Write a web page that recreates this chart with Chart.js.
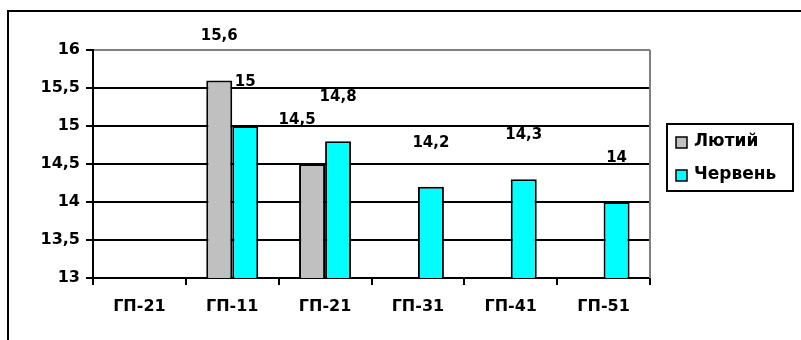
<!DOCTYPE html>
<html>
<head>
<meta charset="utf-8">
<script src="https://cdn.jsdelivr.net/npm/chart.js@4.4.0/dist/chart.umd.min.js"></script>
<style>
  html, body { margin: 0; padding: 0; background: #fff; }
</style>
</head>
<body>
<canvas id="grafico" width="801" height="340"></canvas>
<script>
// Дані діаграми
const categories = ['ГП-21', 'ГП-11', 'ГП-21', 'ГП-31', 'ГП-41', 'ГП-51'];
const lutyi = [null, 15.6, 14.5, null, null, null];
const cherven = [null, 15, 14.8, 14.2, 14.3, 14];
const seriesNames = ['Лютий', 'Червень'];
const yTicks = [13, 13.5, 14, 14.5, 15, 15.5, 16];

const FONT = 'DejaVu Sans';
const comma = v => String(v).replace('.', ',');

// рамка навколо всієї діаграми
const frame = {
  id: 'frame',
  beforeDraw(chart) {
    const c = chart.ctx;
    c.save();
    c.fillStyle = '#fff';
    c.fillRect(0, 0, chart.width, chart.height);
    c.strokeStyle = '#000';
    c.lineWidth = 2;
    c.strokeRect(8, 11, chart.width + 20, chart.height + 20);
    c.restore();
  },
  afterDatasetsDraw(chart) {
    // права межа області побудови (сіра)
    const a = chart.chartArea, c = chart.ctx;
    c.save();
    c.strokeStyle = '#808080';
    c.lineWidth = 2;
    c.beginPath();
    c.moveTo(a.right, a.top);
    c.lineTo(a.right, a.bottom);
    c.stroke();
    c.restore();
  }
};

// підписи значень над стовпчиками
const valueLabels = {
  id: 'valueLabels',
  afterDatasetsDraw(chart) {
    const c = chart.ctx;
    c.save();
    c.font = 'bold 15px "' + FONT + '"';
    c.fillStyle = '#000';
    c.textAlign = 'center';
    c.textBaseline = 'middle';
    chart.data.datasets.forEach((ds, i) => {
      chart.getDatasetMeta(i).data.forEach((bar, j) => {
        const v = ds.data[j];
        if (v == null) return;
        const dx = (i === 0 && j === 2) ? -15 : 0;
        c.fillText(comma(v), bar.x + dx, bar.y - 44);
      });
    });
    c.restore();
  }
};

// легенда в рамці праворуч
const legendBox = {
  id: 'legendBox',
  afterDraw(chart) {
    const c = chart.ctx;
    c.save();
    c.strokeStyle = '#000';
    c.lineWidth = 2;
    c.strokeRect(667, 124, 126, 67);
    c.font = 'bold 17px "' + FONT + '"';
    c.textBaseline = 'middle';
    c.textAlign = 'left';
    chart.data.datasets.forEach((ds, i) => {
      const y = 142 + i * 33;
      c.fillStyle = ds.backgroundColor;
      c.fillRect(676, y - 5, 11, 11);
      c.lineWidth = 1.5;
      c.strokeRect(676, y - 5, 11, 11);
      c.fillStyle = '#000';
      c.fillText(ds.label, 694, y);
    });
    c.restore();
  }
};

new Chart(document.getElementById('grafico'), {
  type: 'bar',
  data: {
    labels: categories,
    datasets: [
      { label: seriesNames[0], data: lutyi, backgroundColor: '#c0c0c0' },
      { label: seriesNames[1], data: cherven, backgroundColor: '#00ffff' }
    ]
  },
  options: {
    responsive: false,
    animation: false,
    layout: { padding: { left: 0, top: 50, right: 151, bottom: 0 } },
    datasets: {
      bar: {
        borderColor: '#000',
        borderWidth: 2,
        borderSkipped: false,
        categoryPercentage: 0.56,
        barPercentage: 1
      }
    },
    plugins: {
      legend: { display: false },
      tooltip: { enabled: false }
    },
    scales: {
      x: {
        afterFit: s => { s.height = 62; },
        border: { color: '#000', width: 2 },
        grid: {
          drawOnChartArea: false,
          color: '#000',
          lineWidth: 2,
          tickLength: 7
        },
        ticks: {
          color: '#000',
          font: { family: FONT, size: 16, weight: 'bold' },
          padding: 12,
          maxRotation: 0
        }
      },
      y: {
        min: 13,
        max: 16,
        afterFit: s => { s.width = 93; },
        afterBuildTicks: s => { s.ticks = yTicks.map(v => ({ value: v })); },
        border: { color: '#000', width: 2 },
        grid: {
          color: c => (c.tick && c.tick.value === 16) ? '#808080' : '#000',
          tickColor: '#000',
          lineWidth: 2,
          tickLength: 7
        },
        ticks: {
          color: '#000',
          font: { family: FONT, size: 16, weight: 'bold' },
          padding: 6,
          callback: v => comma(v)
        }
      }
    }
  },
  plugins: [frame, valueLabels, legendBox]
});
</script>
</body>
</html>
